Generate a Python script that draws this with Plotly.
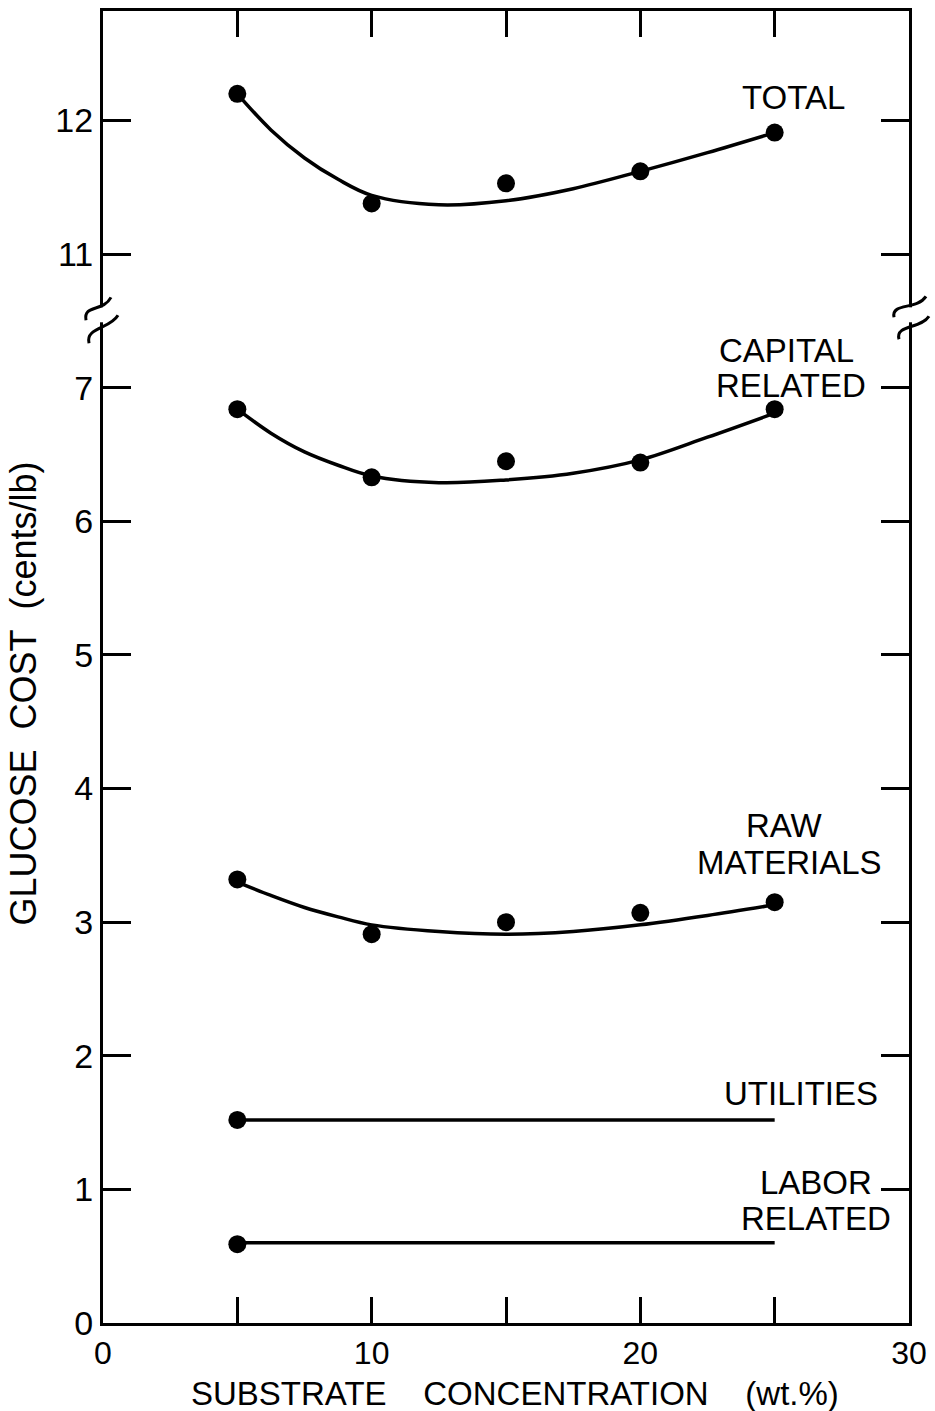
import plotly.graph_objects as go

# ---------------- data ----------------
conc_pts = [5, 10, 15, 20, 25]
total_pts = [12.2, 11.38, 11.53, 11.62, 11.91]
capital_pts = [6.84, 6.33, 6.45, 6.44, 6.84]
raw_pts = [3.32, 2.91, 3.00, 3.07, 3.15]

conc_curve = [5, 6.25, 7.5, 8.75, 10, 12.5, 15, 17.5, 20, 22.5, 25]
total_curve = [12.2, 11.93, 11.72, 11.56, 11.44, 11.37, 11.40, 11.49, 11.62, 11.76, 11.91]
capital_curve = [6.84, 6.66, 6.52, 6.42, 6.34, 6.29, 6.31, 6.36, 6.46, 6.63, 6.81]
raw_curve = [3.30, 3.20, 3.11, 3.04, 2.98, 2.93, 2.91, 2.93, 2.98, 3.05, 3.13]

conc_flat = [5, 25]
utilities_line = [1.52, 1.52]
labor_line = [0.60, 0.60]
utilities_pt = [1.52]
labor_pt = [0.59]

x_tickvals = [0, 5, 10, 15, 20, 25, 30]
x_ticktext = ["0", "", "10", "", "20", "", "30"]
y_tick_values = [0, 1, 2, 3, 4, 5, 6, 7, 11, 12]

# broken axis: values above the break are shifted down by 3 units
BREAK_AT = 7.5
BREAK_SHIFT = 3.0


def brk(v):
    return v - BREAK_SHIFT if v > BREAK_AT else v


def brk_list(vals):
    return [brk(v) for v in vals]


FONT = "Liberation Sans"
BLACK = "#000000"
LW = 3.5
MS = 18

fig = go.Figure()

for xs, ys in [(conc_curve, total_curve), (conc_curve, capital_curve), (conc_curve, raw_curve),
               (conc_flat, utilities_line), (conc_flat, labor_line)]:
    fig.add_trace(go.Scatter(x=xs, y=brk_list(ys), mode="lines",
                             line=dict(color=BLACK, width=LW, shape="spline", smoothing=1.0),
                             showlegend=False, hoverinfo="skip"))

for xs, ys in [(conc_pts, total_pts), (conc_pts, capital_pts), (conc_pts, raw_pts),
               ([5], utilities_pt), ([5], labor_pt)]:
    fig.add_trace(go.Scatter(x=xs, y=brk_list(ys), mode="markers",
                             marker=dict(color=BLACK, size=MS, line=dict(width=0)),
                             showlegend=False, cliponaxis=False))

# ---------------- series labels ----------------
labels = [
    ("TOTAL", 25.69, 12.17),
    ("CAPITAL", 25.43, 7.28),
    ("RELATED", 25.61, 7.02),
    ("RAW", 25.35, 3.72),
    ("MATERIALS", 25.54, 3.45),
    ("UTILITIES", 25.99, 1.72),
    ("LABOR", 26.54, 1.05),
    ("RELATED", 26.54, 0.78),
]
for txt, lx, ly in labels:
    fig.add_annotation(x=lx, y=brk(ly), text=txt, showarrow=False,
                       xanchor="center", yanchor="middle",
                       font=dict(family=FONT, size=33, color=BLACK))

# ---------------- geometry helpers for decorations (pixels -> paper) ----------------
W, H = 935, 1411
ML, MR, MT, MB = 103, 25, 8, 88
PW, PH = W - ML - MR, H - MT - MB


def px(x):
    return (x - ML) / PW


def py(y):
    return (H - MB - y) / PH


def path(pts):
    (x0, y0), (x1, y1), (x2, y2), (x3, y3) = pts
    return (f"M {px(x0)},{py(y0)} C {px(x1)},{py(y1)} {px(x2)},{py(y2)} {px(x3)},{py(y3)}")


shapes = []
# white gaps in the left and right axis lines at the break
for cx in (ML, W - MR):
    shapes.append(dict(type="rect", xref="paper", yref="paper",
                       x0=px(cx - 7), x1=px(cx + 7), y0=py(320), y1=py(305),
                       fillcolor="white", line=dict(width=0), layer="above"))
squiggles = [
    [(86, 318), (83, 302), (103, 310), (111, 295)],
    [(89, 341), (85, 325), (110, 327), (118, 313)],
    [(895, 315), (892, 300), (918, 308), (927, 294)],
    [(900, 337), (896, 322), (922, 327), (930, 314)],
]
for s in squiggles:
    shapes.append(dict(type="path", xref="paper", yref="paper", path=path(s),
                       line=dict(color=BLACK, width=3), layer="above"))

NB = "\u00a0"
# axis titles as annotations
fig.add_annotation(xref="paper", yref="paper", x=px(23), y=py(692),
                   text=f"GLUCOSE{NB*2}COST{NB*2}(cents/lb)", textangle=-90, showarrow=False,
                   xanchor="center", yanchor="middle",
                   font=dict(family=FONT, size=36, color=BLACK))
fig.add_annotation(xref="paper", yref="paper", x=px(516), y=py(1394),
                   text=f"SUBSTRATE{NB*4}CONCENTRATION{NB*4}(wt.%)", showarrow=False,
                   xanchor="center", yanchor="middle",
                   font=dict(family=FONT, size=33, color=BLACK))

fig.update_layout(
    width=W, height=H,
    margin=dict(l=ML, r=MR, t=MT, b=MB),
    paper_bgcolor="white", plot_bgcolor="white",
    shapes=shapes,
    showlegend=False,
    xaxis=dict(range=[0, 30], tickvals=x_tickvals, ticktext=x_ticktext,
               ticks="inside", ticklen=26, tickwidth=3, tickcolor=BLACK,
               showline=True, linewidth=3, linecolor=BLACK, mirror="ticks",
               showgrid=False, zeroline=False,
               tickfont=dict(family=FONT, size=32, color=BLACK)),
    yaxis=dict(range=[0, 9.82], tickvals=brk_list(y_tick_values),
               ticktext=[str(v) for v in y_tick_values],
               ticks="inside", ticklen=28, tickwidth=3, tickcolor=BLACK,
               showline=True, linewidth=3, linecolor=BLACK, mirror="ticks",
               showgrid=False, zeroline=False,
               tickfont=dict(family=FONT, size=34, color=BLACK)),
)

fig.write_html("out.html")
